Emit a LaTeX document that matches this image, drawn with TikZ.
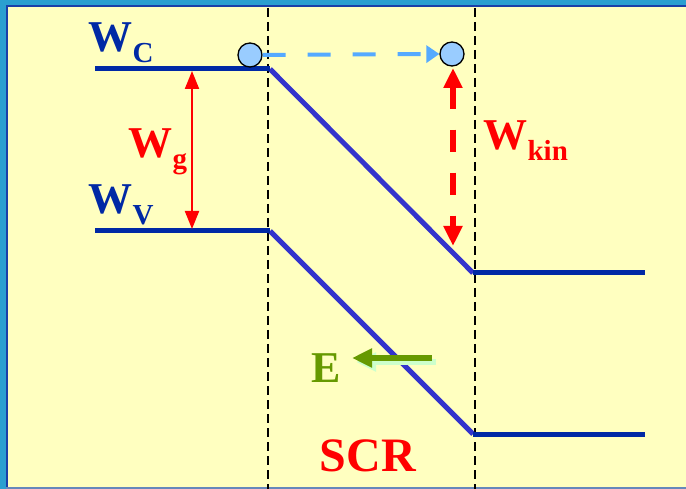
\documentclass[tikz,border=0pt]{standalone}
\usepackage{fontspec}
\setmainfont{Liberation Serif}
\usetikzlibrary{arrows.meta,calc}
\definecolor{bg}{HTML}{FFFFC0}
\definecolor{frameA}{HTML}{2A9FD0}
\definecolor{frameB}{HTML}{1A3FA8}
\definecolor{frameC}{HTML}{6688BB}
\definecolor{lvl}{HTML}{0029A5}
\definecolor{slope}{HTML}{3333CC}
\definecolor{ball}{HTML}{99CCFF}
\definecolor{flight}{HTML}{55AAFF}
\definecolor{ered}{HTML}{FF0000}
\definecolor{egreen}{HTML}{669900}
\definecolor{eshadow}{HTML}{CCFFCC}
\begin{document}
\begin{tikzpicture}[x=1pt,y=-1pt,
  level/.style={draw=lvl,line width=5pt},
  band/.style={draw=slope,line width=5pt},
  boundary/.style={draw=black,line width=1.2pt,dash pattern=on 9pt off 5pt},
  electron/.style={circle,draw=black,fill=ball,line width=1.3pt,minimum size=24pt,inner sep=0pt},
  lbl/.style={font=\bfseries\fontsize{44}{44}\selectfont,inner sep=0pt},
  sub/.style={font=\bfseries\fontsize{29}{29}\selectfont,inner sep=0pt}]
\useasboundingbox (0,0) rectangle (686,489);
% background and frame
\fill[bg] (0,0) rectangle (686,489);
\fill[frameA] (0,0) rectangle (686,5);
\fill[frameA] (0,0) rectangle (6,489);
\draw[frameB,line width=2pt] (7,489) -- (7,6) -- (686,6);
\draw[frameC,line width=2pt] (6,488) -- (686,488);
% coordinates
\coordinate (c0) at (95,69);
\coordinate (c1) at (270,69);
\coordinate (c2) at (473,273);
\coordinate (c3) at (645,273);
\coordinate (v0) at (95,231);
\coordinate (v1) at (270,231);
\coordinate (v2) at (473,434);
\coordinate (v3) at (645,434);
\coordinate (b1t) at (268,8);
\coordinate (b1b) at (268,489);
\coordinate (b2t) at (475,8);
\coordinate (b2b) at (475,489);
% boundaries
\draw[boundary] (b1t) -- (b1b);
\draw[boundary] (b2t) -- (b2b);
% bands
\draw[band] (c1) -- (c2);
\draw[band] (v1) -- (v2);
\draw[level] (c0) -- (c1);
\draw[level] (c2) -- (c3);
\draw[level] (v0) -- (v1);
\draw[level] (v2) -- (v3);
% electrons
\node[electron] (e1) at (250,55) {};
\node[electron] (e2) at (452,54) {};
\draw[flight,line width=4pt,dash pattern=on 23pt off 22pt,-{Triangle[length=13pt,width=17pt]}] (e1.east) -- (e2.west);
% Wg arrow
\coordinate (g1) at (192,71);
\coordinate (g2) at (192,229);
\draw[ered,line width=2pt,{Triangle[length=18pt,width=14pt]}-{Triangle[length=18pt,width=14pt]}] (g1) -- (g2);
% Wkin arrow
\coordinate (k1) at (453,68);
\coordinate (k2) at (453,246);
\draw[ered,line width=6pt,dash pattern=on 22pt off 21pt,{Triangle[length=20pt,width=18pt]}-{Triangle[length=20pt,width=18pt]}] (k1) -- (k2);
% E arrow
\coordinate (ea) at (432,358);
\coordinate (eb) at (352,358);
\draw[eshadow,line width=6pt,-{Triangle[length=20pt,width=18pt]}] ($(ea)+(4,4)$) -- ($(eb)+(4,4)$);
\draw[egreen,line width=6pt,-{Triangle[length=20pt,width=18pt]}] (ea) -- (eb);
% labels
\node[lbl,text=lvl,anchor=base west] (wc) at (88,52) {W};
\node[sub,text=lvl,anchor=base west] (wcs) at (wc.base east) [yshift=-11pt] {C};
\node[lbl,text=lvl,anchor=base west] (wv) at (88,214) {W};
\node[sub,text=lvl,anchor=base west] (wvs) at (wv.base east) [yshift=-11pt] {V};
\node[lbl,text=ered,anchor=base west] (wg) at (128,158) {W};
\node[sub,text=ered,anchor=base west] (wgs) at (wg.base east) [yshift=-11pt] {g};
\node[lbl,text=ered,anchor=base west] (wk) at (483,150) {W};
\node[sub,text=ered,anchor=base west] (wks) at (wk.base east) [yshift=-11pt] {kin};
\node[lbl,text=egreen,anchor=base west] (el) at (311,382) {E};
\node[font=\bfseries\fontsize{48}{48}\selectfont,text=ered,inner sep=0pt,anchor=base] (scr) at (368,471) {SCR};
\end{tikzpicture}
\end{document}
